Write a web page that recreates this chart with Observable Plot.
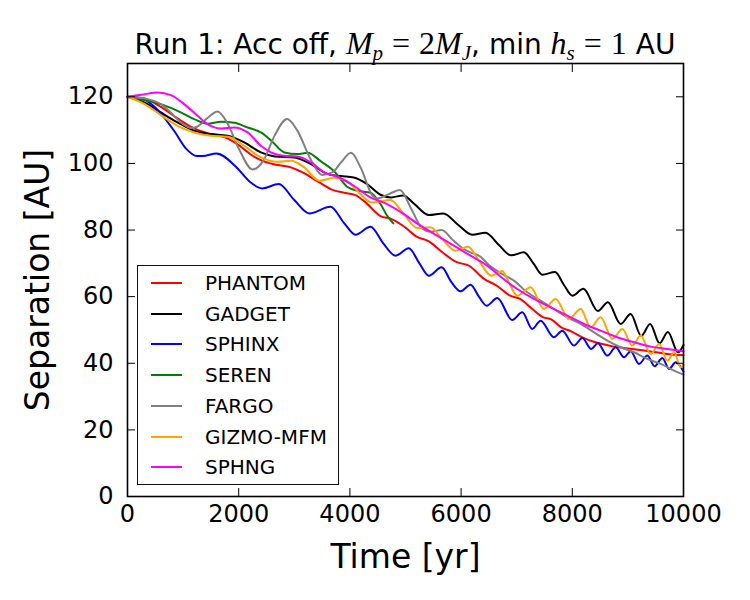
<!DOCTYPE html>
<html><head><meta charset="utf-8">
<script src="https://cdn.jsdelivr.net/npm/d3@7"></script>
<script src="https://cdn.jsdelivr.net/npm/@observablehq/plot@0.6"></script>
<style>
body{margin:0;background:#fff;font-family:"DejaVu Sans",sans-serif;color:#000;}
#wrap{position:relative;width:750px;height:600px;overflow:hidden;}
#title{height:58px;position:relative;}
#title span.t{position:absolute;left:27px;width:756px;top:25px;text-align:center;font-size:28px;line-height:36px;white-space:nowrap;}
.m{font-family:"Liberation Serif",serif;font-size:32px;}
.m i{font-style:italic;}
.m .eq{display:inline-block;margin:0 9px;}
.m sub{font-size:21px;vertical-align:-6px;line-height:0;}
#legend{position:absolute;left:137px;top:265px;width:200px;height:218px;border:1.5px solid #111;background:#fff;}
.row{position:absolute;left:0;height:30px;width:200px;}
.row .sw{position:absolute;left:13px;top:14px;width:31px;height:2px;}
.row .lb{position:absolute;left:67px;top:3px;font-size:20px;line-height:24px;}
g[aria-label="x-axis label"] text, g[aria-label="y-axis label"] text{font-size:33px;}
</style></head>
<body>
<div id="wrap">
<div id="title"><span class="t">Run 1: Acc off, <span class="m"><i>M</i><sub><i>p</i></sub><span class="eq">=</span>2<i>M</i><sub><i>J</i></sub></span>, min <span class="m"><i>h</i><sub><i>s</i></sub><span class="eq">=</span>1</span> AU</span></div>
<div id="plot"></div>
<div id="legend"></div>
</div>
<script>
const seriesNames = ["PHANTOM","GADGET","SPHINX","SEREN","FARGO","GIZMO-MFM","SPHNG"];
const seriesColors = ["#ff0000","#000000","#0000ff","#008000","#808080","#ffa500","#ff00ff"];
const xTicks = [0,2000,4000,6000,8000,10000];
const yTicks = [0,20,40,60,80,100,120];

const phantom = [[0,120],[300,119.5],[600,117],[900,113.5],[1200,110.5],[1500,108.8],[1750,107.8],[2000,105.5],[2250,102.3],[2450,100.6],[2700,99.5],[2900,99],[3150,97.3],[3450,94.3],[3700,92],[3900,91.2],[4100,90.5],[4300,88],[4550,84.2],[4750,83.3],[4980,81],[5200,78],[5420,76.6],[5650,73.5],[5900,70.5],[6150,69.2],[6400,65.5],[6650,63.2],[6880,60.3],[7060,59.3],[7280,56.3],[7480,53.8],[7620,53.2],[7800,50.8],[7980,49.6],[8180,47.8],[8360,46.6],[8540,45.8],[8750,45],[8930,44.6],[9110,44.2],[9290,43.8],[9470,43.4],[9710,42.8],[10000,42.4]];
const gadget = [[0,120],[360,117.8],[600,115.3],[900,112.3],[1200,109.8],[1500,108.8],[1800,108.3],[2100,106.3],[2400,103.3],[2650,102.1],[3000,101.8],[3300,99.8],[3600,96.8],[3830,96.2],[4070,95.8],[4310,93.8],[4550,90.6],[4740,89.8],[4960,90.4],[5160,87.8],[5420,84.5],[5680,85],[5950,81.5],[6200,78.6],[6440,79.2],[6680,75.5],[6900,72.4],[7130,73.3],[7300,70],[7460,66.6],[7690,67.4],[7850,63.5],[8000,60.3],[8200,62.4],[8460,55.7],[8640,58.3],[8870,51.8],[9050,54.8],[9240,48.2],[9400,51.8],[9570,46],[9720,49.4],[9900,43.3],[10000,45.5]];
const sphinx = [[0,120],[250,119.5],[450,117.5],[650,114],[850,109.5],[1050,104.5],[1250,102.2],[1350,102.2],[1600,103],[1950,99],[2200,94.5],[2420,92.5],[2720,93.8],[3000,89],[3270,85],[3650,87],[3900,82],[4100,78.6],[4370,81],[4600,76],[4820,72.3],[5060,74.5],[5250,70],[5420,66.3],[5650,68.8],[5820,64.5],[5990,61.6],[6170,63.6],[6320,60],[6460,57.3],[6650,59.6],[6920,53],[7100,55.3],[7280,50.3],[7430,52.8],[7670,47.8],[7820,49.8],[8030,45.3],[8180,47.6],[8340,44.3],[8460,46],[8630,42.3],[8780,44.8],[8930,41.8],[9050,43.6],[9200,39.8],[9350,42.3],[9480,39.1],[9620,41.6],[9740,38.3],[9860,40.3],[10000,37.5]];
const seren = [[0,120],[360,118.8],[600,117.8],[900,115.8],[1200,113.3],[1440,111.9],[1680,112.5],[1920,112.2],[2160,110.8],[2400,109.3],[2600,106.6],[2820,103.3],[3060,102.8],[3240,103.2],[3480,100.6],[3720,97.6],[3950,93],[4140,91.8],[4370,91.2],[4550,87.8],[4670,84.3],[4780,82]];
const fargo = [[0,120],[360,119.3],[600,117.8],[780,115.3],[960,112.3],[1150,110.6],[1250,111],[1450,113.8],[1620,115.6],[1800,112],[2000,104.5],[2250,98.2],[2450,101],[2650,108.5],[2870,113.3],[3050,110],[3300,101],[3500,96.5],[3700,97.5],[3850,100.5],[4020,103.2],[4200,98.5],[4400,90.5],[4500,89.5],[4700,90.8],[4900,92],[5100,86.5],[5300,80.5],[5450,79.5],[5650,80],[5850,77],[6030,74.5],[6170,73.3],[6350,72],[6500,69.5],[6700,67.2],[6950,64.8],[7190,61.3],[7430,58.8],[7670,56.3],[7910,53.8],[8150,51.8],[8390,49.3],[8630,46.8],[8870,44.8],[9110,43.3],[9350,41.3],[9590,39.8],[9830,37.8],[10000,36.6]];
const gizmo = [[0,120],[360,117.3],[600,114.5],[900,111.3],[1200,109.3],[1500,108.3],[1800,108],[2100,105.3],[2400,101.8],[2700,100.5],[2940,100.8],[3180,98.8],[3450,94.8],[3720,95.7],[3950,94.6],[4130,91.8],[4400,88.3],[4730,89],[4970,84.8],[5210,80.6],[5450,80.8],[5650,77.5],[5900,73.8],[6125,75],[6330,70.5],[6545,66.3],[6740,67.7],[6880,63.5],[7010,60.3],[7250,62.8],[7490,56.3],[7700,59.3],[7940,53.3],[8150,56.3],[8330,50.8],[8510,53.8],[8720,47.3],[8900,50.3],[9080,45.3],[9230,48.3],[9410,42.8],[9560,45.8],[9710,40.8],[9830,43.3],[9950,38.8],[10000,39.5]];
const sphng = [[0,120],[250,120.6],[540,121.3],[780,120.5],[1020,117.8],[1260,114.3],[1440,111.8],[1680,110.5],[1920,110.8],[2160,109.3],[2400,105.3],[2580,103.3],[2820,102.3],[3060,102.1],[3300,100.3],[3540,97.3],[3780,96],[4070,93.3],[4370,89.8],[4670,87.8],[4970,84.8],[5270,81.3],[5570,78.3],[5870,75.3],[6170,72.3],[6470,69.3],[6740,65.6],[7010,62.3],[7310,59.3],[7610,56.8],[7910,54.3],[8210,51.8],[8510,49.8],[8810,47.8],[9110,46.3],[9410,45],[9710,44.3],[10000,43.6]];

const seriesData = [phantom, gadget, sphinx, seren, fargo, gizmo, sphng];

const chart = Plot.plot({
  width: 750, height: 542,
  marginTop: 5, marginBottom: 104, marginLeft: 127, marginRight: 67,
  x: {domain: [0, 10000]},
  y: {domain: [0, 130]},
  style: {fontFamily: "DejaVu Sans", fontSize: "24px", color: "black", background: "white", overflow: "visible"},
  marks: [
    ...seriesData.map((data, i) => Plot.line(data, {x: d => d[0], y: d => d[1], stroke: seriesColors[i], strokeWidth: 2, curve: "monotone-x"})),
    Plot.frame({stroke: "black", strokeWidth: 1.6}),
    Plot.axisX(xTicks, {anchor: "bottom", tickSize: -8, tickPadding: 16, tickFormat: d => String(d), label: "Time [yr]", labelAnchor: "center", labelOffset: 71, labelArrow: "none"}),
    Plot.axisX(xTicks, {anchor: "top", tickSize: -8, tickFormat: () => "", label: null}),
    Plot.axisY(yTicks, {anchor: "left", tickSize: -8, tickPadding: 22, tickFormat: d => String(d), label: "Separation [AU]", labelAnchor: "center", labelOffset: 102, labelArrow: "none"}),
    Plot.axisY(yTicks, {anchor: "right", tickSize: -8, tickFormat: () => "", label: null})
  ]
});
document.getElementById("plot").appendChild(chart);

const legend = document.getElementById("legend");
seriesNames.forEach((name, i) => {
  const row = document.createElement("div");
  row.className = "row";
  row.style.top = (2 + i * 30.7) + "px";
  row.innerHTML = `<div class="sw" style="background:${seriesColors[i]}"></div><div class="lb">${name}</div>`;
  legend.appendChild(row);
});
</script>
</body></html>
